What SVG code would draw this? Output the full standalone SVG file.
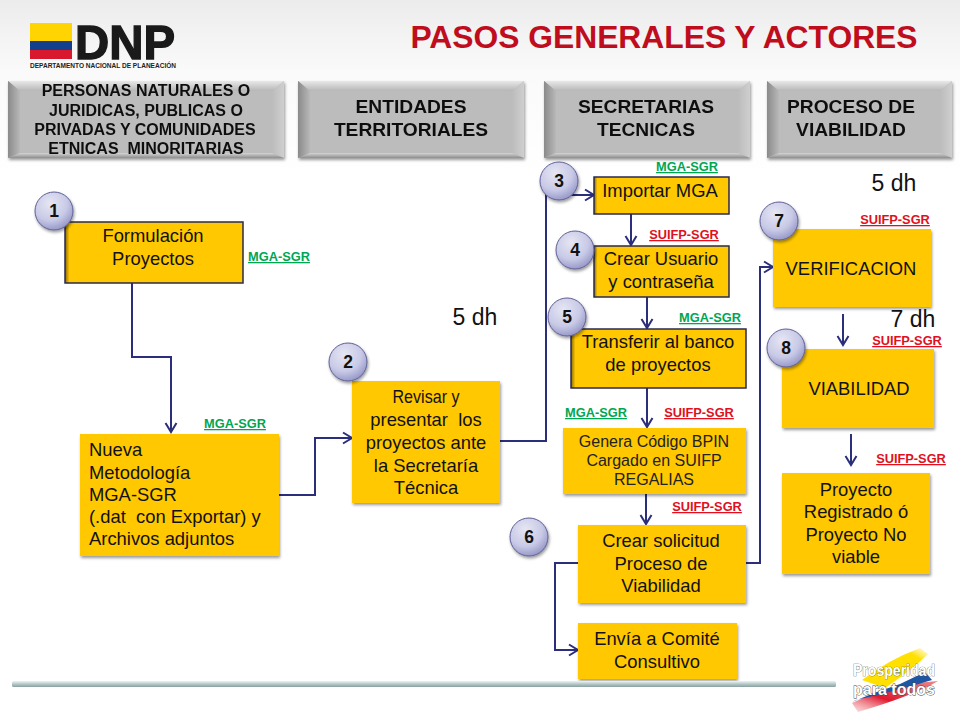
<svg xmlns="http://www.w3.org/2000/svg" width="960" height="720" viewBox="0 0 960 720">
<style>
text{font-family:"Liberation Sans",Arial,sans-serif;fill:#111;text-anchor:middle;white-space:pre}
.h{font-weight:bold;font-size:19.2px}
.h4{font-weight:bold;font-size:16px}
.n{font-size:18.4px}
.l{font-size:18.4px;text-anchor:start}
.s{font-size:16px;fill:#222}
.tag{font-weight:bold;font-size:12.8px;text-decoration:underline}
.g{fill:#00a651}
.r{fill:#e01020}
.num{font-weight:bold;font-size:17.5px}
.dh{font-size:23px}
.box{fill:#ffc800;filter:url(#sh)}
.bd{fill:url(#edge);stroke:#2a2a50;stroke-width:1.5}
.c{fill:url(#ball);stroke:#5f6096;stroke-width:1;filter:url(#sh)}
.con{fill:none;stroke:#2b2e7a;stroke-width:2;marker-end:url(#ar)}
</style>
<defs>
<marker id="ar" markerUnits="userSpaceOnUse" markerWidth="14" markerHeight="14" refX="11" refY="7" orient="auto"><path d="M2 1.5L11 7L2 12.5" fill="none" stroke="#2b2e7a" stroke-width="2"/></marker>
<filter id="sh" x="-15%" y="-15%" width="130%" height="130%"><feDropShadow dx="1" dy="2" stdDeviation="1.5" flood-color="#000" flood-opacity=".4"/></filter>
<linearGradient id="bg" x1="0" y1="0" x2="0" y2="1"><stop offset="0" stop-color="#ececec"/><stop offset=".1" stop-color="#fafafa"/><stop offset=".25" stop-color="#fff"/></linearGradient>
<linearGradient id="edge" x1="0" y1="0" x2="1" y2="0"><stop offset="0" stop-color="#8a6a00"/><stop offset=".025" stop-color="#ffc800"/></linearGradient>
<radialGradient id="ball" cx=".4" cy=".3" r=".75"><stop offset="0" stop-color="#e6e6f4"/><stop offset=".6" stop-color="#c8c9e6"/><stop offset="1" stop-color="#9092c4"/></radialGradient>
<linearGradient id="bar" x1="0" y1="0" x2="0" y2="1"><stop offset="0" stop-color="#eef4f4"/><stop offset=".5" stop-color="#b4c8c8"/><stop offset="1" stop-color="#8aa0a0"/></linearGradient>
<linearGradient id="top" x1="0" y1="0" x2="0" y2="1"><stop offset="0" stop-color="#e8e8e8"/><stop offset="1" stop-color="#b6b6b6"/></linearGradient>
<linearGradient id="lft" x1="0" y1="0" x2="1" y2="0"><stop offset="0" stop-color="#8a8a8a"/><stop offset="1" stop-color="#b8b8b8"/></linearGradient>
<linearGradient id="rgt" x1="0" y1="0" x2="1" y2="0"><stop offset="0" stop-color="#bcbcbc"/><stop offset="1" stop-color="#cfcfcf"/></linearGradient>
<linearGradient id="bot" x1="0" y1="0" x2="0" y2="1"><stop offset="0" stop-color="#d4d4d4"/><stop offset="1" stop-color="#8e8e8e"/></linearGradient>
<linearGradient id="yl" x1="0" y1="1" x2="1" y2="0"><stop offset="0" stop-color="#ffe000"/><stop offset=".8" stop-color="#ffe000"/><stop offset="1" stop-color="#fff6b0" stop-opacity=".4"/></linearGradient>
<linearGradient id="rd" x1="0" y1="1" x2="1" y2="0"><stop offset="0" stop-color="#f6b0b0" stop-opacity=".4"/><stop offset=".4" stop-color="#e01830"/><stop offset="1" stop-color="#e88"/></linearGradient>
</defs>
<rect width="960" height="720" fill="url(#bg)"/>

<g id="logo">
<rect x="30" y="23" width="42" height="18" fill="#ffd400"/>
<rect x="30" y="41" width="42" height="9" fill="#12408c"/>
<rect x="30" y="50" width="42" height="9" fill="#d8182c"/>
<text x="75" y="59" style="font-size:49px;font-weight:bold;text-anchor:start;fill:#1a1a1a;stroke:#1a1a1a;stroke-width:1.4" textLength="100" lengthAdjust="spacingAndGlyphs">DNP</text>
<text x="30" y="68" style="font-size:6.6px;font-weight:bold;text-anchor:start;fill:#222" textLength="146" lengthAdjust="spacingAndGlyphs">DEPARTAMENTO NACIONAL DE PLANEACIÓN</text>
</g>
<text id="title" x="664" y="48" style="font-size:31.8px;font-weight:bold;fill:#c00d1e">PASOS GENERALES Y ACTORES</text>

<g id="header1" filter="url(#sh)">
<rect x="8" y="81" width="276" height="77" fill="#bcbcbc"/>
<polygon points="8,81 284,81 272,91 20,91" fill="url(#top)"/>
<polygon points="8,81 20,91 20,153 8,158" fill="url(#lft)"/>
<polygon points="284,81 272,91 272,153 284,158" fill="url(#rgt)"/>
<polygon points="8,158 20,153 272,153 284,158" fill="url(#bot)"/>
<text class="h4" x="146" y="96">PERSONAS NATURALES O</text>
<text class="h4" x="146" y="116">JURIDICAS, PUBLICAS O</text>
<text class="h4" x="145" y="135">PRIVADAS Y COMUNIDADES</text>
<text class="h4" x="146" y="154">ETNICAS  MINORITARIAS</text>
</g>
<g id="header2" filter="url(#sh)">
<rect x="298" y="81" width="226" height="77" fill="#bcbcbc"/>
<polygon points="298,81 524,81 512,91 310,91" fill="url(#top)"/>
<polygon points="298,81 310,91 310,153 298,158" fill="url(#lft)"/>
<polygon points="524,81 512,91 512,153 524,158" fill="url(#rgt)"/>
<polygon points="298,158 310,153 512,153 524,158" fill="url(#bot)"/>
<text class="h" x="411" y="113">ENTIDADES</text>
<text class="h" x="411" y="136">TERRITORIALES</text>
</g>
<g id="header3" filter="url(#sh)">
<rect x="544" y="81" width="206" height="77" fill="#bcbcbc"/>
<polygon points="544,81 750,81 738,91 556,91" fill="url(#top)"/>
<polygon points="544,81 556,91 556,153 544,158" fill="url(#lft)"/>
<polygon points="750,81 738,91 738,153 750,158" fill="url(#rgt)"/>
<polygon points="544,158 556,153 738,153 750,158" fill="url(#bot)"/>
<text class="h" x="646" y="113">SECRETARIAS</text>
<text class="h" x="646" y="136">TECNICAS</text>
</g>
<g id="header4" filter="url(#sh)">
<rect x="767" y="81" width="185" height="77" fill="#bcbcbc"/>
<polygon points="767,81 952,81 940,91 779,91" fill="url(#top)"/>
<polygon points="767,81 779,91 779,153 767,158" fill="url(#lft)"/>
<polygon points="952,81 940,91 940,153 952,158" fill="url(#rgt)"/>
<polygon points="767,158 779,153 940,153 952,158" fill="url(#bot)"/>
<text class="h" x="851" y="113">PROCESO DE</text>
<text class="h" x="851" y="136">VIABILIDAD</text>
</g>

<g id="connectors">
<path class="con" d="M132 283V357H171V432"/>
<path class="con" d="M279 495H315V438H352"/>
<path class="con" d="M500 441H546V195H594"/>
<path class="con" d="M631 214V245"/>
<path class="con" d="M647 297V328"/>
<path class="con" d="M647 388V427"/>
<path class="con" d="M646 494V524"/>
<path class="con" d="M578 563H555V650H578"/>
<path class="con" d="M746 563H760V267H773"/>
<path class="con" d="M843 314V345"/>
<path class="con" d="M851 434V465"/>
</g>

<g id="n-formulacion"><rect class="bd" x="65" y="222" width="178" height="61"/><text class="n" x="153" y="242">Formulación</text><text class="n" x="153" y="265">Proyectos</text></g>
<g id="n-nueva"><rect class="box" x="80" y="434" width="199" height="122"/><text class="l" x="89" y="456">Nueva</text><text class="l" x="89" y="479">Metodología</text><text class="l" x="89" y="501">MGA-SGR</text><text class="l" x="89" y="523">(.dat  con Exportar) y</text><text class="l" x="89" y="545">Archivos adjuntos</text></g>
<g id="n-revisar"><rect class="box" x="352" y="381" width="148" height="122"/><text class="n" x="426" y="403" textLength="67" lengthAdjust="spacingAndGlyphs">Revisar y</text><text class="n" x="426" y="426">presentar  los</text><text class="n" x="426" y="449">proyectos ante</text><text class="n" x="426" y="472">la Secretaría</text><text class="n" x="426" y="494">Técnica</text></g>
<g id="n-importar"><rect class="bd" x="594" y="177" width="135" height="37"/><text class="n" x="660" y="197">Importar MGA</text></g>
<g id="n-usuario"><rect class="bd" x="594" y="246" width="135" height="51"/><text class="n" x="661" y="265">Crear Usuario</text><text class="n" x="661" y="288">y contraseña</text></g>
<g id="n-transferir"><rect class="bd" x="571" y="329" width="175" height="59"/><text class="n" x="658" y="348">Transferir al banco</text><text class="n" x="658" y="371">de proyectos</text></g>
<g id="n-genera"><rect class="box" x="563" y="428" width="183" height="66"/><text class="s" x="654" y="447">Genera Código BPIN</text><text class="s" x="654" y="466">Cargado en SUIFP</text><text class="s" x="654" y="485">REGALIAS</text></g>
<g id="n-solicitud"><rect class="box" x="578" y="525" width="168" height="78"/><text class="n" x="661" y="547">Crear solicitud</text><text class="n" x="661" y="570">Proceso de</text><text class="n" x="661" y="592">Viabilidad</text></g>
<g id="n-envia"><rect class="box" x="578" y="623" width="159" height="56"/><text class="n" x="657" y="645">Envía a Comité</text><text class="n" x="657" y="668">Consultivo</text></g>
<g id="n-verificacion"><rect class="box" x="773" y="229" width="158" height="78"/><text class="n" x="851" y="275">VERIFICACION</text></g>
<g id="n-viabilidad"><rect class="box" x="782" y="349" width="152" height="79"/><text class="n" x="859" y="395">VIABILIDAD</text></g>
<g id="n-proyecto"><rect class="box" x="782" y="473" width="148" height="101"/><text class="n" x="856" y="496">Proyecto</text><text class="n" x="856" y="518">Registrado ó</text><text class="n" x="856" y="541">Proyecto No</text><text class="n" x="856" y="563">viable</text></g>

<g id="b1"><circle class="c" cx="54" cy="211" r="19"/><text class="num" x="54" y="217">1</text></g>
<g id="b2"><circle class="c" cx="348" cy="362" r="19"/><text class="num" x="348" y="368">2</text></g>
<g id="b3"><circle class="c" cx="559" cy="181" r="19"/><text class="num" x="559" y="187">3</text></g>
<g id="b4"><circle class="c" cx="575" cy="250" r="19"/><text class="num" x="575" y="256">4</text></g>
<g id="b5"><circle class="c" cx="567" cy="317" r="19"/><text class="num" x="567" y="323">5</text></g>
<g id="b6"><circle class="c" cx="529" cy="537" r="19"/><text class="num" x="529" y="543">6</text></g>
<g id="b7"><circle class="c" cx="779" cy="221" r="19"/><text class="num" x="779" y="227">7</text></g>
<g id="b8"><circle class="c" cx="786" cy="348" r="19"/><text class="num" x="786" y="354">8</text></g>

<g id="tags">
<text class="tag g" x="279" y="261">MGA-SGR</text>
<text class="tag g" x="235" y="428">MGA-SGR</text>
<text class="tag g" x="687" y="171">MGA-SGR</text>
<text class="tag r" x="684" y="239">SUIFP-SGR</text>
<text class="tag g" x="710" y="322">MGA-SGR</text>
<text class="tag g" x="596" y="417">MGA-SGR</text>
<text class="tag r" x="699" y="417">SUIFP-SGR</text>
<text class="tag r" x="707" y="511">SUIFP-SGR</text>
<text class="tag r" x="895" y="224">SUIFP-SGR</text>
<text class="tag r" x="907" y="345">SUIFP-SGR</text>
<text class="tag r" x="911" y="463">SUIFP-SGR</text>
</g>
<text class="dh" x="475" y="325">5 dh</text>
<text class="dh" x="894" y="191">5 dh</text>
<text class="dh" x="913" y="327">7 dh</text>

<g id="footer">
<rect x="12" y="681" width="824" height="6" rx="1.5" fill="url(#bar)"/>
<path d="M862 680Q888 660 920 648L928 654Q912 670 885 688Z" fill="url(#yl)"/>
<path d="M852 703Q880 690 905 684L938 681Q915 695 858 712Z" fill="url(#rd)"/>
<path d="M852 702Q875 692 900 684L925 672L932 680Q900 690 856 700Z" fill="#1f56a4"/>
<text x="894" y="676" style="font-size:16px;font-weight:bold;fill:#fff;stroke:#555;stroke-width:.7;paint-order:stroke" textLength="82" lengthAdjust="spacingAndGlyphs">Prosperidad</text>
<text x="894" y="695" style="font-size:17px;font-weight:bold;fill:#fff;stroke:#444;stroke-width:.9;paint-order:stroke" textLength="82" lengthAdjust="spacingAndGlyphs">para todos</text>
</g>
</svg>
